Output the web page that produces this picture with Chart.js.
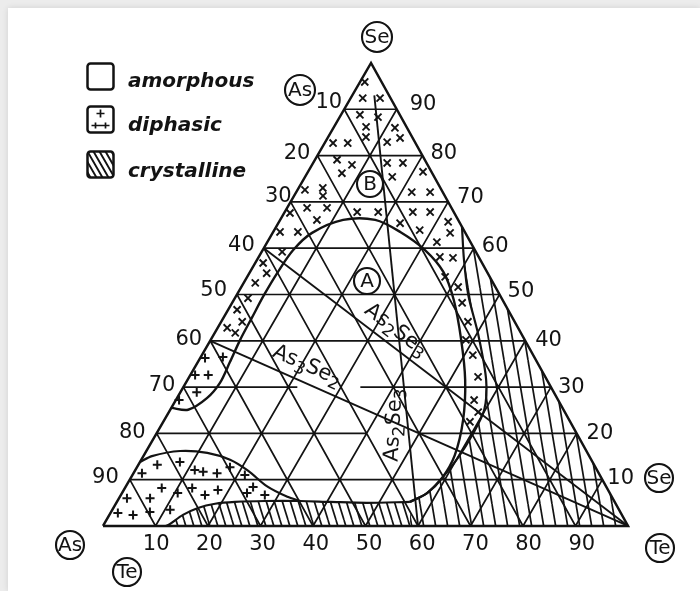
<!DOCTYPE html>
<html>
<head>
<meta charset="utf-8">
<title>As–Se–Te</title>
<script src="https://cdn.jsdelivr.net/npm/chart.js@4.4.1/dist/chart.umd.min.js"></script>
<style>
  html, body { margin: 0; padding: 0; }
  body { width: 700px; height: 591px; background: #ececec; position: relative; overflow: hidden; }
  .sheet { position: absolute; left: 8px; top: 8px; right: 0; bottom: 0; background: #fff; box-shadow: 0 0 6px rgba(0,0,0,0.12); }
  #diagram { position: absolute; left: 0; top: 0; }
</style>
</head>
<body>
<div class="sheet"></div>
<canvas id="diagram" width="700" height="591"></canvas>
<script>
(function () {
  'use strict';

  /* --- compositions in at.%, every point is [Te, Se]; As makes up the rest --- */

  const teTicks = [10, 20, 30, 40, 50, 60, 70, 80, 90];
  const seTicks = [90, 80, 70, 60, 50, 40, 30, 20, 10];
  const asTicks = [10, 20, 30, 40, 50, 60, 70, 80, 90];

  // Se grid lines left open where the compound names sit
  const seGridGaps = { 30: [21.7, 33.7], 20: [40.1, 50.2] };

  // amorphous field A, from the As-Se side round to the crystalline strip
  const amorphousEdge = [
    [0, 25.5], [3.4, 25.1], [5.7, 27.6], [6.5, 30.9], [6.1, 35.4], [5.6, 40.2],
    [5.4, 44.9], [5.2, 49.9], [5.3, 54.9], [5.8, 59.6], [7.5, 63.3], [12.0, 66.1],
    [18.1, 66.1], [24.2, 63.5], [30.9, 59.6], [36.8, 54.9], [41.9, 48.8], [47.7, 40.2],
    [52.9, 31.5], [56.9, 22.9], [59.2, 15.3], [59.3, 10.4], [58.1, 7.1], [55.8, 5.2]
  ];

  // outer limit of the diphasic band on the Te-rich side
  const bandEdge = [
    [35.4, 64.6], [39.4, 57.5], [44.1, 49.9], [50.4, 41.3], [56.9, 31.5], [59.8, 25.1],
    [60.3, 19.7], [60.1, 14.7], [59.3, 10.4], [58.1, 7.1], [55.8, 5.2]
  ];

  // top of the crystalline strip along the As-Te side
  const stripEdge = [
    [55.8, 5.2], [47.7, 5.0], [40.6, 5.2], [34.8, 5.4], [28.1, 5.4], [22.5, 5.2],
    [18.9, 4.8], [16.1, 3.9], [14.0, 2.4], [12.5, 0.4], [12.0, 0]
  ];

  // diphasic corner near As
  const cornerEdge = [
    [0, 13.8], [1.6, 15.1], [6.4, 16.2], [11.8, 15.8], [16.9, 14.3], [21.6, 11.9],
    [26.8, 8.6], [31.9, 6.3], [34.8, 5.4]
  ];

  // pseudo-binary joins
  const joinAs3Se2 = [[0, 40], [100, 0]];
  const joinAs2Se3 = [[0, 60], [100, 0]];
  const joinAs2Te3 = [[4.2, 93], [60, 0]];

  // diphasic samples, upper field (x)
  const crossSamples = [
    [0.9, 95.9], [2.3, 92.4], [5.6, 92.4],
    [3.6, 88.8], [6.1, 86.2], [7.2, 84.0], [7.3, 88.3], [11.7, 86.0], [1.6, 82.7],
    [4.4, 82.7], [11.8, 82.9], [13.8, 83.8],
    [4.2, 79.1], [7.6, 78.0], [6.6, 76.2], [14.1, 78.4], [17.1, 78.4], [16.6, 75.4],
    [21.9, 76.5], [1.4, 72.6], [4.6, 73.0], [5.5, 71.3], [22.0, 72.1], [25.5, 72.1],
    [3.8, 68.7], [7.6, 68.7], [7.0, 66.1], [1.3, 63.5], [4.7, 63.5], [1.1, 67.6],
    [13.8, 67.8], [17.8, 67.8], [24.4, 67.8], [27.7, 67.8], [23.2, 65.4], [27.7, 63.9],
    [32.2, 65.7], [33.8, 63.3], [32.3, 61.3], [34.5, 58.1], [37.1, 57.9],
    [37.7, 53.8], [41.3, 51.6], [43.8, 48.2], [47.0, 44.1], [48.6, 40.2], [51.6, 36.9],
    [55.0, 32.2], [56.8, 27.2], [58.9, 24.6], [58.4, 22.5],
    [3.9, 59.2], [1.5, 56.8], [3.3, 54.6], [2.2, 52.5], [2.5, 49.2], [1.7, 46.7],
    [4.0, 44.1], [1.8, 42.8], [3.9, 41.7]
  ];

  // diphasic samples, As-rich fields (+)
  const plusSamples = [
    [0.9, 36.3], [4.2, 36.5], [0.9, 32.6], [3.4, 32.6], [3.1, 28.9], [0.6, 27.2],
    [3.6, 13.2], [7.6, 13.8], [11.3, 12.1], [13.1, 11.7], [15.9, 11.4], [17.7, 12.7],
    [21.4, 11.0], [1.6, 11.4], [7.0, 8.2], [10.6, 7.1], [12.8, 8.2], [16.0, 6.7],
    [17.9, 7.8], [23.8, 7.1], [24.3, 8.4], [27.4, 6.7], [1.5, 6.0], [5.9, 6.0],
    [7.4, 3.0], [11.0, 3.5], [1.4, 2.8], [4.5, 2.4]
  ];

  const legendLabels = ['amorphous', 'diphasic', 'crystalline'];

  /* --- drawing setup --- */

  const INK = '#131313';
  const APEX = 0.5105;          // Se corner sits slightly right of the base centre
  const pt = ([te, se]) => ({ x: te + APEX * se, y: se });
  const BREAK = { x: null, y: null };

  function hatch(w, h, lw) {
    const c = document.createElement('canvas');
    c.width = w; c.height = h;
    const g = c.getContext('2d');
    g.strokeStyle = INK;
    g.lineWidth = lw;
    for (let k = -1; k <= 1; k++) {
      g.beginPath();
      g.moveTo(k * w, 0);
      g.lineTo(k * w + w, h);
      g.stroke();
    }
    return g.createPattern(c, 'repeat');
  }

  function gridData() {
    const out = [];
    const seg = (a, b) => out.push(pt(a), pt(b), BREAK);
    seTicks.forEach(v => {
      const gap = seGridGaps[v];
      if (gap) {
        seg([0, v], [gap[0], v]);
        seg([gap[1], v], [100 - v, v]);
      } else {
        seg([0, v], [100 - v, v]);
      }
    });
    teTicks.forEach(v => seg([v, 0], [v, 100 - v]));
    asTicks.forEach(v => seg([100 - v, 0], [0, 100 - v]));
    return out;
  }

  const line = (data, extra) => Object.assign({
    data: data,
    showLine: true,
    pointRadius: 0,
    borderColor: INK,
    borderWidth: 1.7,
    fill: false,
    tension: 0,
    spanGaps: false
  }, extra);

  const area = (poly, pattern) => ({
    data: poly.map(pt),
    showLine: true,
    pointRadius: 0,
    borderColor: 'rgba(0,0,0,0)',
    borderWidth: 1,
    fill: 'shape',
    backgroundColor: pattern,
    tension: 0,
    order: 10
  });

  const rightField = bandEdge.concat([[58.5, 0], [100, 0], bandEdge[0]]);
  const stripField = stripEdge.concat([[58.5, 0], stripEdge[0]]);

  const datasets = [
    area(rightField, hatch(12, 72, 1.7)),
    area(stripField, hatch(8, 26, 1.7)),
    line(gridData(), { order: 6 }),
    line([[0, 0], [100, 0], [0, 100], [0, 0]].map(pt), { borderWidth: 2.5, order: 5 }),
    line(joinAs3Se2.map(pt), { borderWidth: 1.9, order: 4 }),
    line(joinAs2Se3.map(pt), { borderWidth: 1.9, order: 4 }),
    line(joinAs2Te3.map(pt), { borderWidth: 1.9, order: 4 }),
    line(amorphousEdge.map(pt), { borderWidth: 2.4, tension: 0.3, order: 3 }),
    line(bandEdge.map(pt), { borderWidth: 2.2, tension: 0.3, order: 3 }),
    line(stripEdge.map(pt), { borderWidth: 2.2, tension: 0.3, order: 3 }),
    line(cornerEdge.map(pt), { borderWidth: 2.2, tension: 0.3, order: 3 }),
    {
      data: crossSamples.map(pt), showLine: false, pointStyle: 'crossRot',
      pointRadius: 5, pointBorderColor: INK, pointBorderWidth: 1.9, order: 1
    },
    {
      data: plusSamples.map(pt), showLine: false, pointStyle: 'cross',
      pointRadius: 4.5, pointBorderColor: INK, pointBorderWidth: 2, order: 1
    }
  ];

  /* --- text, circled element symbols and the key --- */

  const TICK_FONT = '21px "DejaVu Sans", sans-serif';
  const leftNudge = [[-2, -7], [-7, -2], [1, -5], [-9, -3], [-10, -4], [-8, -1], [-8, -2], [-11, -1], [-11, -2]];
  const rightNudge = [[13, -5], [8, -2], [9, -4], [8, -2], [8, -3], [10, 0], [7, 0], [10, 0], [5, -1]];

  const circled = [
    { t: 'Se', x: 377, y: 37, r: 15 },
    { t: 'As', x: 300, y: 90, r: 15 },
    { t: 'Se', x: 659, y: 478, r: 14 },
    { t: 'Te', x: 660, y: 548, r: 14 },
    { t: 'As', x: 70, y: 545, r: 14 },
    { t: 'Te', x: 127, y: 572, r: 14 },
    { t: 'A', x: 367, y: 281, r: 13 },
    { t: 'B', x: 370, y: 184, r: 13 }
  ];

  const formulas = [
    { parts: [['As', 0], ['2', 1], ['Se', 0], ['3', 1]], at: [34.2, 42.3], along: joinAs2Se3 },
    { parts: [['As', 0], ['3', 1], ['Se', 0], ['2', 1]], at: [21.2, 34.6], along: joinAs3Se2 },
    { parts: [['As', 0], ['2', 1], ['Se', 0], ['3', 1]], at: [44.3, 21.8], angle: -87 }
  ];

  function drawFormula(ctx, parts, x, y, angle, size) {
    ctx.save();
    ctx.translate(x, y);
    ctx.rotate(angle * Math.PI / 180);
    const fontFor = sub => (sub ? Math.round(size * 0.8) : size) + 'px "DejaVu Sans", sans-serif';
    let w = 0;
    parts.forEach(([t, sub]) => { ctx.font = fontFor(sub); w += ctx.measureText(t).width; });
    let cx = -w / 2;
    ctx.textAlign = 'left';
    ctx.textBaseline = 'middle';
    parts.forEach(([t, sub]) => {
      ctx.font = fontFor(sub);
      ctx.fillText(t, cx, sub ? size * 0.3 : 0);
      cx += ctx.measureText(t).width;
    });
    ctx.restore();
  }

  function drawKey(ctx) {
    const boxes = [63, 106, 151];
    const baselines = [87, 131, 177];
    ctx.save();
    ctx.strokeStyle = INK;
    ctx.fillStyle = INK;
    boxes.forEach((top, i) => {
      const x = 87.5, y = top + 0.5, s = 26;
      ctx.lineWidth = 2.5;
      ctx.beginPath();
      if (ctx.roundRect) ctx.roundRect(x, y, s, s, 3); else ctx.rect(x, y, s, s);
      ctx.stroke();
      ctx.lineWidth = 1.7;
      if (i === 1) {
        ctx.beginPath();
        ctx.moveTo(x + 13, y + 3); ctx.lineTo(x + 13, y + 11);
        ctx.moveTo(x + 9, y + 7); ctx.lineTo(x + 17, y + 7);
        ctx.moveTo(x + 4, y + 19); ctx.lineTo(x + 22, y + 19);
        ctx.moveTo(x + 8, y + 16); ctx.lineTo(x + 8, y + 22);
        ctx.moveTo(x + 18, y + 16); ctx.lineTo(x + 18, y + 22);
        ctx.stroke();
      } else if (i === 2) {
        ctx.save();
        ctx.beginPath();
        ctx.rect(x, y, s, s);
        ctx.clip();
        ctx.lineWidth = 1.9;
        ctx.beginPath();
        for (let k = -24; k < 30; k += 6) {
          ctx.moveTo(x + k, y);
          ctx.lineTo(x + k + 15, y + s);
        }
        ctx.stroke();
        ctx.restore();
      }
      ctx.font = 'italic bold 20px "DejaVu Sans", sans-serif';
      ctx.textAlign = 'left';
      ctx.textBaseline = 'alphabetic';
      ctx.fillText(legendLabels[i], 128, baselines[i]);
    });
    ctx.restore();
  }

  const labelsPlugin = {
    id: 'ternaryText',
    afterDatasetsDraw(chart) {
      const ctx = chart.ctx;
      const sx = chart.scales.x, sy = chart.scales.y;
      const px = p => { const q = pt(p); return [sx.getPixelForValue(q.x), sy.getPixelForValue(q.y)]; };

      ctx.save();
      ctx.fillStyle = INK;
      ctx.strokeStyle = INK;

      // circled symbols go under the scale numbers
      circled.forEach(c => {
        ctx.beginPath();
        ctx.arc(c.x, c.y, c.r, 0, Math.PI * 2);
        ctx.fillStyle = '#fff';
        ctx.fill();
        ctx.lineWidth = 2.1;
        ctx.stroke();
        ctx.fillStyle = INK;
        ctx.font = '20px "DejaVu Sans", sans-serif';
        ctx.textAlign = 'center';
        ctx.textBaseline = 'middle';
        ctx.fillText(c.t, c.x, c.y + 1);
      });

      ctx.font = TICK_FONT;
      ctx.textBaseline = 'middle';

      ctx.textAlign = 'right';
      asTicks.forEach((v, i) => {
        const [x, y] = px([0, 100 - v]);
        ctx.fillText(String(v), x + leftNudge[i][0], y + leftNudge[i][1]);
      });

      ctx.textAlign = 'left';
      seTicks.forEach((v, i) => {
        const [x, y] = px([100 - v, v]);
        ctx.fillText(String(v), x + rightNudge[i][0], y + rightNudge[i][1]);
      });

      ctx.textAlign = 'center';
      teTicks.forEach(v => {
        const [x, y] = px([v, 0]);
        ctx.fillText(String(v), x + v * 0.07, y + 19);
      });

      formulas.forEach(f => {
        const [x, y] = px(f.at);
        let angle = f.angle;
        if (f.along) {
          const [x0, y0] = px(f.along[0]);
          const [x1, y1] = px(f.along[1]);
          angle = Math.atan2(y1 - y0, x1 - x0) * 180 / Math.PI;
        }
        drawFormula(ctx, f.parts, x, y, angle, 21);
      });

      ctx.restore();
      drawKey(ctx);
    }
  };

  new Chart(document.getElementById('diagram'), {
    type: 'scatter',
    data: { datasets: datasets },
    options: {
      responsive: false,
      animation: false,
      events: [],
      devicePixelRatio: 1,
      layout: { padding: 0, autoPadding: false },
      scales: {
        x: { type: 'linear', min: -19.62, max: 113.71, display: false },
        y: { type: 'linear', min: -14.04, max: 113.6, display: false }
      },
      plugins: {
        legend: { display: false },
        tooltip: { enabled: false }
      }
    },
    plugins: [labelsPlugin]
  });

})();
</script>
</body>
</html>
